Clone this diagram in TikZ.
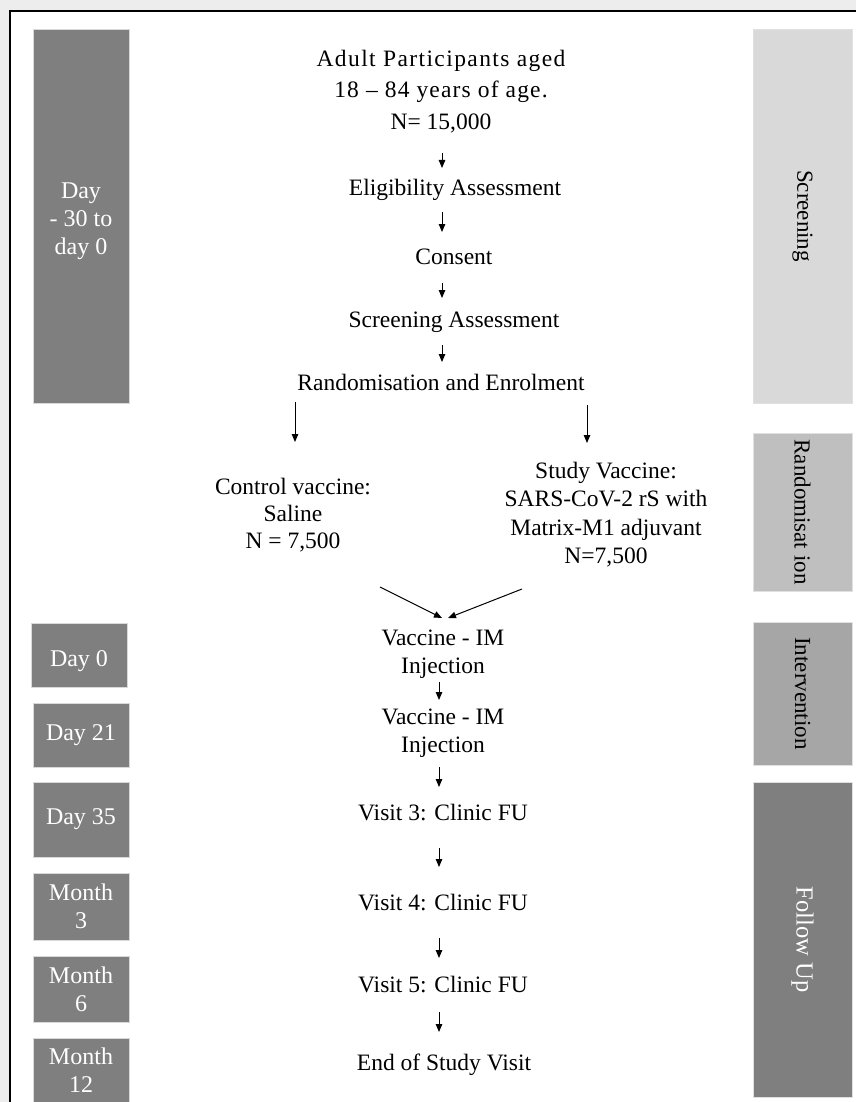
\documentclass[tikz,border=0pt]{standalone}
\usepackage{fontspec}
\setmainfont{Liberation Serif}
\usetikzlibrary{arrows.meta}
\definecolor{dk}{HTML}{7F7F7F}
\definecolor{scr}{HTML}{D9D9D9}
\definecolor{rnd}{HTML}{BFBFBF}
\definecolor{itv}{HTML}{A6A6A6}
\tikzset{
  txt/.style={font=\fontsize{23.5}{28}\selectfont, align=center, inner sep=0pt},
  lbox/.style={fill=dk, draw=black!15, line width=0.8pt, text=white,
    font=\fontsize{24}{28}\selectfont, align=center, inner sep=0pt, minimum width=96},
  rbox/.style={draw=black!12, line width=0.8pt, font=\fontsize{23}{28}\selectfont,
    inner sep=0pt, rotate=-90, minimum height=99},
  arr/.style={line width=1pt, -{Triangle[length=8pt,width=6.5pt]}}
}
\begin{document}
\begin{tikzpicture}[x=1pt,y=-1pt]
\useasboundingbox (0,0) rectangle (856,1102);
\fill[black!7] (0,0) rectangle (856,1102);
\fill[white] (10,11) rectangle (856,1102);
\draw[line width=2.5pt] (10,1102) -- (10,11) -- (856,11);

% left time boxes
\node[lbox, minimum height=374] (t0) at (81,216) {\rule{0pt}{26pt}Day\\- 30 to\\day 0};
\node[lbox, minimum height=64, text height=28] (t1) at (79,655) {Day 0};
\node[lbox, minimum height=64] (t2) at (81,735) {Day 21};
\node[lbox, minimum height=75] (t3) at (81,819.5) {Day 35};
\node[lbox, minimum height=67] (t4) at (81,906.5) {Month\\3};
\node[lbox, minimum height=66] (t5) at (81,989) {Month\\6};
\node[lbox, minimum height=64] (t6) at (81,1070) {Month\\12};

% right phase boxes
\node[rbox, fill=scr, minimum width=374] (p1) at (802.5,216) {Screening};
\node[rbox, fill=rnd, minimum width=158] (p2) at (802.5,512) {Randomisat ion};
\node[rbox, fill=itv, minimum width=143] (p3) at (802.5,693.5) {Intervention};
\node[rbox, fill=dk, text=white, minimum width=315, font=\fontsize{24.5}{28}\selectfont] (p4) at (802.5,939.5) {Follow Up};

% main flow
\node[txt, font=\fontsize{23.5}{31.5}\selectfont] (adult) at (441,91.5) {{\addfontfeature{LetterSpace=6}Adult Participants aged}\\{\addfontfeature{LetterSpace=5}18 – 84 years of age.}\\N= 15,000\hspace{10pt}};
\node[txt] (elig) at (455,190) {Eligibility Assessment};
\node[txt] (consent) at (454,257) {Consent};
\node[txt] (scrass) at (454,322) {Screening Assessment};
\node[txt] (rand) at (441,382) {Randomisation and Enrolment};
\node[txt, font=\fontsize{23.5}{27}\selectfont] (ctrl) at (293,515) {Control vaccine:\\Saline\\N = 7,500};
\node[txt, font=\fontsize{23.5}{28.5}\selectfont] (study) at (606,514.5) {Study Vaccine:\\SARS-CoV-2 rS with\\Matrix-M1 adjuvant\\N=7,500};
\node[txt] (vac1) at (443,654) {Vaccine - IM\\Injection};
\node[txt] (vac2) at (443,733) {Vaccine - IM\\Injection};
\node[txt] (v3) at (443,813) {Visit 3: Clinic FU};
\node[txt] (v4) at (443,903) {Visit 4: Clinic FU};
\node[txt] (v5) at (443,985) {Visit 5: Clinic FU};
\node[txt] (eos) at (444,1065) {End of Study Visit};

% connectors
\draw[arr] ([shift={(1,61.5)}]adult.center) -- ([shift={(-13,-22)}]elig.center);
\draw[arr] ([shift={(-13,22)}]elig.center) -- ([shift={(-12,-25)}]consent.center);
\draw[arr] ([shift={(-12,26)}]consent.center) -- ([shift={(-12,-24)}]scrass.center);
\draw[arr] ([shift={(-12,23)}]scrass.center) -- ([shift={(1,-20)}]rand.center);
\draw[arr] ([shift={(-146,20)}]rand.center) -- ([shift={(2,-73)}]ctrl.center);
\draw[arr] ([shift={(146,23)}]rand.center) -- ([shift={(-19,-71.5)}]study.center);
\draw[arr] ([shift={(87,72)}]ctrl.center) -- ([shift={(-1,-36)}]vac1.center);
\draw[arr] ([shift={(-84,74.5)}]study.center) -- ([shift={(5,-36)}]vac1.center);
\draw[arr] ([shift={(-4,28)}]vac1.center) -- ([shift={(-4,-33)}]vac2.center);
\draw[arr] ([shift={(-4,34)}]vac2.center) -- ([shift={(-4,-26)}]v3.center);
\draw[arr] ([shift={(-4,35)}]v3.center) -- ([shift={(-4,-36)}]v4.center);
\draw[arr] ([shift={(-4,35)}]v4.center) -- ([shift={(-4,-27)}]v5.center);
\draw[arr] ([shift={(-4,27)}]v5.center) -- ([shift={(-5,-33)}]eos.center);
\end{tikzpicture}
\end{document}
